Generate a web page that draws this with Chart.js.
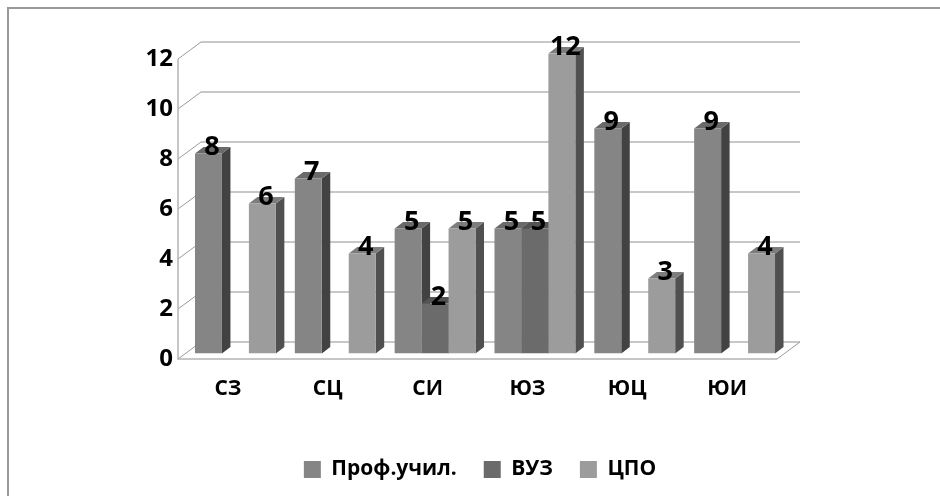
<!DOCTYPE html>
<html>
<head>
<meta charset="utf-8">
<style>
  html, body { margin: 0; padding: 0; background: #fff; overflow: hidden; }
  #wrap { position: relative; width: 940px; height: 496px; }
  #frame { position: absolute; left: 7px; top: 7px; right: 0; bottom: 0; border-left: 2px solid #999; border-top: 2px solid #999; }
  canvas { position: absolute; left: 0; top: 0; }
</style>
<script src="https://cdn.jsdelivr.net/npm/chart.js@4/dist/chart.umd.min.js"></script>
</head>
<body>
<div id="wrap">
  <div id="frame"></div>
  <canvas id="chart" width="940" height="496"></canvas>
</div>
<script>
const categories = ['СЗ', 'СЦ', 'СИ', 'ЮЗ', 'ЮЦ', 'ЮИ'];
const profValues = [8, 7, 5, 5, 9, 9];
const vuzValues = [null, null, 2, 5, null, null];
const cpoValues = [6, 4, 5, 12, 3, 4];
const seriesNames = ['Проф.учил.', 'ВУЗ', 'ЦПО'];

const frontColors = ['#858585', '#6b6b6b', '#9c9c9c'];
const sideColors = ['#424242', '#3f3f3f', '#505050'];
const topColors = ['#6a6a6a', '#545454', '#7d7d7d'];

const FONT = '"Open Sans", sans-serif';
// how far the back wall sits from the front plane
const WALL_X = 23;
const WALL_Y = -17;
// bars stand a bit behind the front plane
const BAR_X = 7.5;
const BAR_Y = -5.5;
const DEPTH_X = 8.5;
const DEPTH_Y = -6.5;

const walls3d = {
  id: 'walls3d',
  beforeDatasetsDraw(chart) {
    const { ctx, scales, chartArea } = chart;
    const left = chartArea.left;
    const right = chartArea.right;
    ctx.save();

    // grid lines on the back wall and the diagonals of the side wall
    scales.y.ticks.forEach((tick) => {
      const y = scales.y.getPixelForValue(tick.value);
      ctx.strokeStyle = '#b4b4b4';
      ctx.lineWidth = 1.5;
      ctx.beginPath();
      ctx.moveTo(left + WALL_X, y + WALL_Y);
      ctx.lineTo(right + WALL_X, y + WALL_Y);
      ctx.stroke();
      ctx.strokeStyle = '#9a9a9a';
      ctx.lineWidth = 1;
      ctx.beginPath();
      ctx.moveTo(left, y);
      ctx.lineTo(left + WALL_X, y + WALL_Y);
      ctx.stroke();
    });

    // left axis and floor
    const floor = scales.y.getPixelForValue(0);
    ctx.strokeStyle = '#b4b4b4';
    ctx.lineWidth = 1.5;
    ctx.beginPath();
    ctx.moveTo(left, scales.y.getPixelForValue(12));
    ctx.lineTo(left, floor);
    ctx.lineTo(right, floor);
    ctx.stroke();
    ctx.strokeStyle = '#9a9a9a';
    ctx.lineWidth = 1;
    ctx.beginPath();
    ctx.moveTo(right, floor);
    ctx.lineTo(right + WALL_X, floor + WALL_Y);
    ctx.stroke();

    // side and top faces, series by series, the fronts are drawn by chart.js afterwards
    chart.data.datasets.forEach((ds, i) => {
      chart.getDatasetMeta(i).data.forEach((bar, j) => {
        if (ds.data[j] === null) return;
        const l = bar.x - bar.width / 2 + BAR_X;
        const r = bar.x + bar.width / 2 + BAR_X;
        const t = bar.y + BAR_Y;
        const b = bar.base + BAR_Y;
        ctx.fillStyle = sideColors[i];
        ctx.beginPath();
        ctx.moveTo(r, t);
        ctx.lineTo(r + DEPTH_X, t + DEPTH_Y);
        ctx.lineTo(r + DEPTH_X, b + DEPTH_Y);
        ctx.lineTo(r, b);
        ctx.closePath();
        ctx.fill();
        ctx.fillStyle = topColors[i];
        ctx.beginPath();
        ctx.moveTo(l, t);
        ctx.lineTo(l + DEPTH_X, t + DEPTH_Y);
        ctx.lineTo(r + DEPTH_X, t + DEPTH_Y);
        ctx.lineTo(r, t);
        ctx.closePath();
        ctx.fill();
      });
    });
    ctx.restore();
  },
  beforeDatasetDraw(chart) {
    chart.ctx.save();
    chart.ctx.translate(BAR_X, BAR_Y);
  },
  afterDatasetDraw(chart) {
    chart.ctx.restore();
  },
  afterDatasetsDraw(chart) {
    const { ctx } = chart;
    ctx.save();
    ctx.fillStyle = '#000';
    ctx.font = 'bold 27px ' + FONT;
    ctx.textAlign = 'center';
    ctx.textBaseline = 'middle';
    chart.data.datasets.forEach((ds, i) => {
      chart.getDatasetMeta(i).data.forEach((bar, j) => {
        if (ds.data[j] === null) return;
        ctx.fillText(String(ds.data[j]), bar.x + BAR_X + 3.5, bar.y + BAR_Y - 6);
      });
    });
    ctx.restore();
  }
};

new Chart(document.getElementById('chart'), {
  type: 'bar',
  data: {
    labels: categories,
    datasets: [
      { label: seriesNames[0], data: profValues, backgroundColor: frontColors[0] },
      { label: seriesNames[1], data: vuzValues, backgroundColor: frontColors[1] },
      { label: seriesNames[2], data: cpoValues, backgroundColor: frontColors[2] },
    ],
  },
  options: {
    responsive: false,
    animation: false,
    barPercentage: 1,
    categoryPercentage: 0.81,
    layout: { padding: { left: 20, right: 0, top: 59, bottom: 6 } },
    plugins: {
      tooltip: { enabled: false },
      legend: {
        position: 'bottom',
        labels: {
          boxWidth: 17,
          boxHeight: 17,
          padding: 27,
          color: '#000',
          font: { family: FONT, size: 21, weight: 'bold' },
        },
      },
    },
    scales: {
      x: {
        grid: { display: false, drawTicks: false },
        border: { display: false },
        ticks: { color: '#000', padding: 17, font: { family: FONT, size: 21, weight: 'bold' } },
        afterFit(scale) { scale.height = 73; },
      },
      y: {
        min: 0,
        max: 12,
        grid: { display: false, drawTicks: false },
        border: { display: false },
        ticks: { stepSize: 2, color: '#000', padding: 5, font: { family: FONT, size: 24, weight: 'bold' } },
        afterFit(scale) { scale.width = 158; },
      },
      // empty axis, only keeps room on the right so the legend stays centred on the page
      pad: {
        position: 'right',
        grid: { display: false },
        border: { display: false },
        ticks: { display: false },
        afterFit(scale) { scale.width = 163; },
      },
    },
  },
  plugins: [walls3d],
});
</script>
</body>
</html>
